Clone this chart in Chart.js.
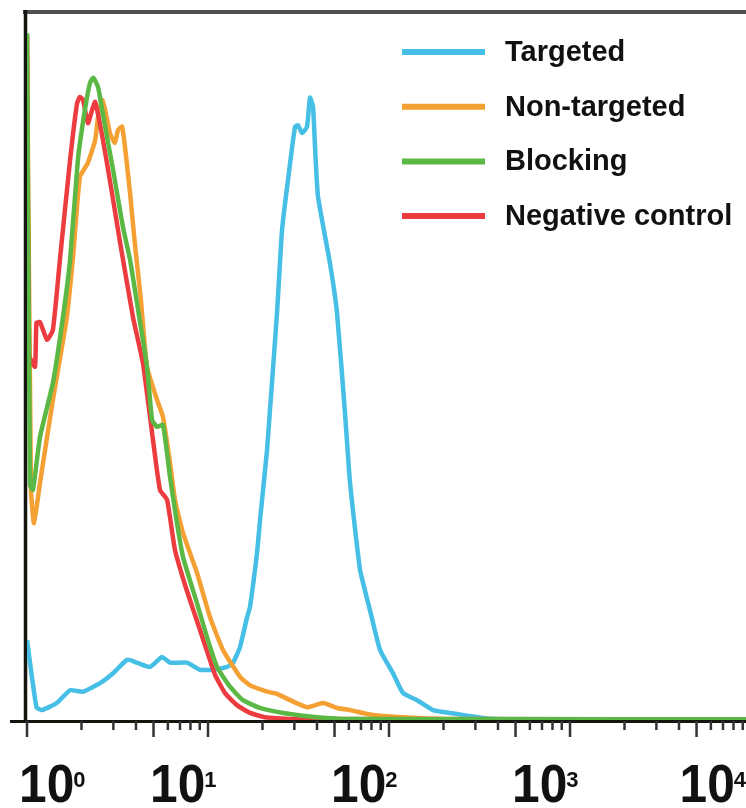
<!DOCTYPE html>
<html>
<head>
<meta charset="utf-8">
<script src="https://cdn.jsdelivr.net/npm/chart.js@4.4.1/dist/chart.umd.min.js"></script>
<style>
  html, body { margin: 0; padding: 0; background: #fff; }
  #wrap { width: 746px; height: 808px; }
</style>
</head>
<body>
<div id="wrap"><canvas id="histChart" width="746" height="808"></canvas></div>
<script>
// fluorescence intensity (log axis) and event counts
const seriesLabels = ["Targeted", "Non-targeted", "Blocking", "Negative control"];
const seriesColors = ["#45bfe6", "#f4a033", "#5cb845", "#ec3c3f"];

const targetedX = [1.00, 1.128, 1.21, 1.46, 1.73, 2.04, 2.53, 2.99, 3.57, 4.05, 4.78, 5.57, 6.17, 7.66, 9.03, 10.66, 12.74, 13.75, 15.03, 16.43, 17.06, 18.65, 19.38, 21.18, 22.0, 24.06, 25.64, 27.67, 30.25, 31.42, 33.06, 35.24, 36.6, 38.04, 39.02, 40.53, 47.2, 51.6, 57.1, 60.9, 69.2, 78.5, 89.2, 105.2, 119.5, 142.8, 175.0, 217, 330.6, 410.6, 9380];
const targetedY = [11.3, 1.8, 1.4, 2.4, 4.2, 4.0, 5.2, 6.6, 8.5, 8.1, 7.5, 8.9, 8.1, 8.1, 7.1, 7.1, 7.5, 8.1, 10.3, 14.5, 16.0, 23.6, 28.2, 38.1, 43.8, 57.5, 69.2, 76.3, 83.8, 84.0, 82.9, 83.8, 87.9, 86.6, 80.9, 73.9, 64.5, 57.5, 43.4, 33.5, 21.2, 15.5, 9.9, 6.6, 3.8, 2.8, 1.4, 1.0, 0.28, 0.14, 0.1];

const nonTargetedX = [1.00, 1.052, 1.093, 1.18, 1.39, 1.66, 1.80, 1.96, 2.17, 2.38, 2.47, 2.60, 2.70, 2.87, 3.06, 3.18, 3.35, 3.48, 3.71, 3.95, 4.26, 4.60, 5.23, 5.64, 6.17, 6.57, 7.28, 8.69, 10.26, 12.10, 15.03, 17.06, 21.2, 24.06, 28.4, 35.2, 43.2, 51.6, 60.9, 75.6, 92.7, 142.8, 217, 9380];
const nonTargetedY = [96.6, 32.5, 27.8, 33.5, 45.2, 56.9, 65.7, 76.7, 78.7, 81.9, 85.2, 87.6, 86.2, 82.9, 81.5, 83.3, 83.8, 80.9, 74.4, 67.1, 59.3, 49.9, 45.2, 42.8, 36.3, 31.1, 26.4, 20.8, 14.5, 9.9, 6.1, 4.9, 4.0, 3.7, 2.8, 1.8, 2.4, 1.7, 1.4, 0.85, 0.56, 0.28, 0.14, 0.1];

const blockingX = [1.00, 1.039, 1.079, 1.18, 1.39, 1.58, 1.73, 1.91, 2.09, 2.23, 2.32, 2.47, 2.60, 2.77, 2.99, 3.39, 3.71, 4.11, 4.60, 4.91, 5.23, 5.64, 6.17, 6.74, 7.28, 8.69, 9.87, 11.21, 13.23, 15.61, 19.38, 25.97, 40.0, 60.9, 9380];
const blockingY = [97.0, 33.2, 32.5, 40.0, 47.6, 56.9, 65.0, 79.1, 86.2, 90.0, 90.7, 89.4, 86.2, 82.3, 77.7, 69.6, 65.0, 57.9, 49.9, 42.4, 41.4, 41.7, 34.3, 27.8, 23.0, 16.5, 11.7, 7.5, 4.7, 2.8, 1.7, 1.0, 0.4, 0.14, 0.1];

const negativeX = [1.00, 1.026, 1.107, 1.128, 1.18, 1.29, 1.39, 1.52, 1.73, 1.89, 1.96, 2.04, 2.17, 2.29, 2.38, 2.63, 2.95, 3.27, 3.85, 4.37, 4.97, 5.43, 5.94, 6.57, 7.46, 8.48, 9.62, 10.93, 12.42, 14.46, 17.06, 20.6, 28.4, 9380];
const negativeY = [96.8, 51.6, 49.9, 56.1, 56.2, 53.7, 55.1, 65.0, 79.1, 87.1, 88.0, 87.6, 84.3, 86.2, 87.3, 81.9, 74.4, 67.4, 56.9, 50.4, 39.5, 32.5, 31.1, 24.0, 19.1, 14.8, 10.6, 6.4, 3.8, 2.1, 1.0, 0.4, 0.14, 0.1];

const decadeExponents = ["0", "1", "2", "3", "4"];
const xMin = 1, xMax = 9380;

function pairs(xs, ys) {
    return xs.map((x, i) => ({ x: x, y: ys[i] }));
}

const allX = [targetedX, nonTargetedX, blockingX, negativeX];
const allY = [targetedY, nonTargetedY, blockingY, negativeY];
// green drawn on top, blue at the back
const drawOrder = [4, 3, 1, 2];

let datasets = seriesLabels.map((name, i) => ({
    label: name,
    data: pairs(allX[i], allY[i]),
    borderColor: seriesColors[i],
    backgroundColor: seriesColors[i],
    borderWidth: 4.5,
    pointRadius: 0,
    tension: 0.15,
    order: drawOrder[i]
}));

function line(ctx, x1, y1, x2, y2) {
    ctx.beginPath();
    ctx.moveTo(x1, y1);
    ctx.lineTo(x2, y2);
    ctx.stroke();
}

const axesPlugin = {
    id: "axes",
    beforeDatasetsDraw(chart) {
        const ctx = chart.ctx;
        const a = chart.chartArea;
        const x = chart.scales.x;
        ctx.save();
        ctx.lineCap = "butt";
        // top frame
        ctx.strokeStyle = "#505050";
        ctx.lineWidth = 4;
        line(ctx, a.left - 4, a.top, a.right, a.top);
        // left axis
        ctx.strokeStyle = "#151510";
        ctx.lineWidth = 3.5;
        line(ctx, a.left - 1.5, a.top - 2, a.left - 1.5, a.bottom + 3);
        // bottom axis
        ctx.lineWidth = 3;
        line(ctx, 10, a.bottom + 1.5, a.right, a.bottom + 1.5);
        // log ticks
        ctx.strokeStyle = "#333";
        ctx.lineWidth = 2.5;
        for (let n = 0; n < 4 + 1; n++) {
            for (let k = 1; k <= 9; k++) {
                const v = k * Math.pow(10, n);
                const px = x.getPixelForValue(v);
                if (px > a.right + 1) continue;
                const long = (k === 1 || k === 5);
                line(ctx, px, a.bottom + 1, px, a.bottom + (long ? 17 : 10));
            }
        }
        ctx.restore();
    },
    afterDraw(chart) {
        const ctx = chart.ctx;
        const a = chart.chartArea;
        const x = chart.scales.x;
        ctx.save();
        ctx.fillStyle = "#111";
        ctx.textBaseline = "alphabetic";
        ctx.textAlign = "left";
        const sx = 0.92;
        ctx.font = 'bold 54px "Liberation Sans", Arial, sans-serif';
        const w10 = ctx.measureText("10").width * sx;
        ctx.font = 'bold 22px "Liberation Sans", Arial, sans-serif';
        const wSup = ctx.measureText("0").width;
        decadeExponents.forEach((e, n) => {
            const px = x.getPixelForValue(Math.pow(10, n));
            let left = px - 58;
            if (left < 19) left = 19;
            if (left + w10 + wSup > chart.width + 1) left = chart.width + 1 - w10 - wSup;
            ctx.save();
            ctx.translate(left, 802);
            ctx.scale(sx, 1);
            ctx.font = 'bold 54px "Liberation Sans", Arial, sans-serif';
            ctx.fillText("10", 0, 0);
            ctx.restore();
            ctx.font = 'bold 22px "Liberation Sans", Arial, sans-serif';
            ctx.fillText(e, left + w10 - 1, 787);
        });

        // legend, inside the plot at top right
        const lx1 = a.right - 344, lx2 = a.right - 261, tx = a.right - 241;
        ctx.font = 'bold 29px "Liberation Sans", Arial, sans-serif';
        chart.data.datasets.forEach((ds, i) => {
            const ly = a.top + 40 + i * 54.7;
            ctx.strokeStyle = ds.borderColor;
            ctx.lineWidth = 6;
            line(ctx, lx1, ly, lx2, ly);
            ctx.fillStyle = "#111";
            ctx.fillText(ds.label, tx, ly + 9);
        });
        ctx.restore();
    }
};

let histCtx = document.getElementById("histChart").getContext("2d");

let histChart = new Chart(histCtx, {
    type: "line",
    data: { datasets: datasets },
    options: {
        responsive: false,
        animation: false,
        devicePixelRatio: 1,
        layout: { padding: { left: 27, top: 12, right: 0, bottom: 88 } },
        plugins: { legend: { display: false }, tooltip: { enabled: false } },
        scales: {
            x: { type: "logarithmic", min: xMin, max: xMax, display: false },
            y: { type: "linear", min: 0, max: 100, display: false }
        }
    },
    plugins: [axesPlugin]
});
</script>
</body>
</html>
